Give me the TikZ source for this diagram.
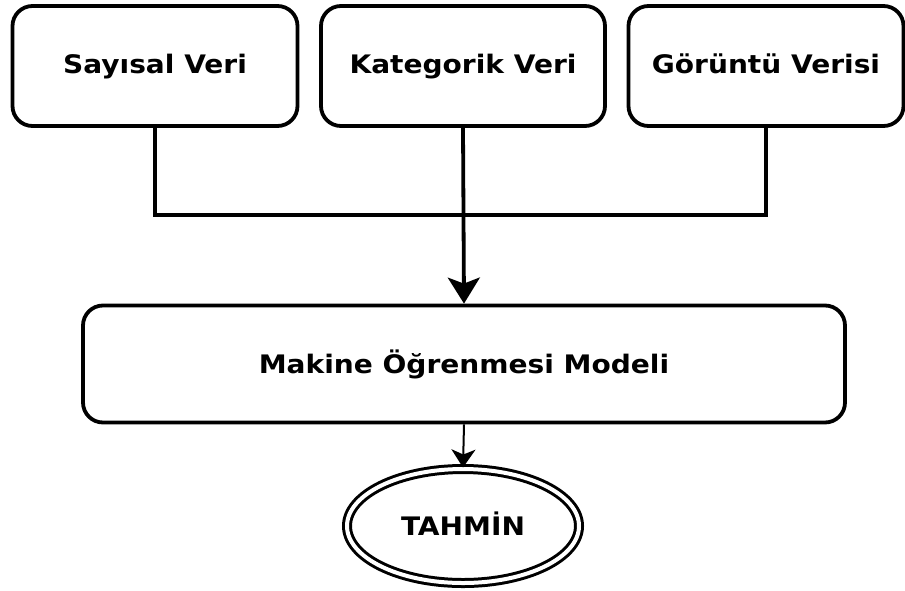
\documentclass[tikz,border=0pt]{standalone}
\usepackage{fontspec}
\setmainfont{DejaVu Sans}
\newfontfamily\boxfont{DejaVu Sans}[FakeStretch=1.1]
\usetikzlibrary{arrows.meta,positioning,shapes.geometric}

\tikzset{
  databox/.style={draw, line width=3.8pt, rounded corners=20pt,
                  minimum width=285pt, minimum height=120pt,
                  text height=14pt, text depth=0pt,
                  font=\boxfont\bfseries\fontsize{25.5}{30}\selectfont},
  modelbox/.style={databox, minimum width=762pt, minimum height=117pt,
                   text height=18pt},
  result/.style={draw, ellipse, double, line width=3pt, double distance=4pt,
                 minimum width=232pt, minimum height=114pt,
                 text height=18pt, text depth=0pt,
                 font=\boxfont\bfseries\fontsize{25.5}{30}\selectfont}
}

\begin{document}
\begin{tikzpicture}[x=1pt, y=1pt]
  \useasboundingbox (0,0) rectangle (905,-590);

  % inputs
  \node[databox] (sayisal) at (155,-66) {Sayısal Veri};
  \node[databox, minimum width=284pt] (kategorik) at (463,-66) {Kategorik Veri};
  \node[databox, minimum width=275pt] (goruntu) at (766,-66) {Görüntü Verisi};

  % model and output
  \node[modelbox] (model) at (464,-364) {Makine Öğrenmesi Modeli};
  \node[result] (tahmin) at (463,-526) {TAHMİN};

  % merge of the inputs
  \coordinate (merge) at (463,-215);
  \draw[line width=3.8pt] (sayisal.south) |- (merge) -| (goruntu.south);
  \draw[line width=3.8pt, -{Stealth[length=26pt, width=32pt, inset=6pt]}] (kategorik.south) -- (model.north);
  \draw[line width=2pt, -{Stealth[length=18pt, width=24pt, inset=5pt]}] (model.south) -- (tahmin.north);
\end{tikzpicture}
\end{document}
